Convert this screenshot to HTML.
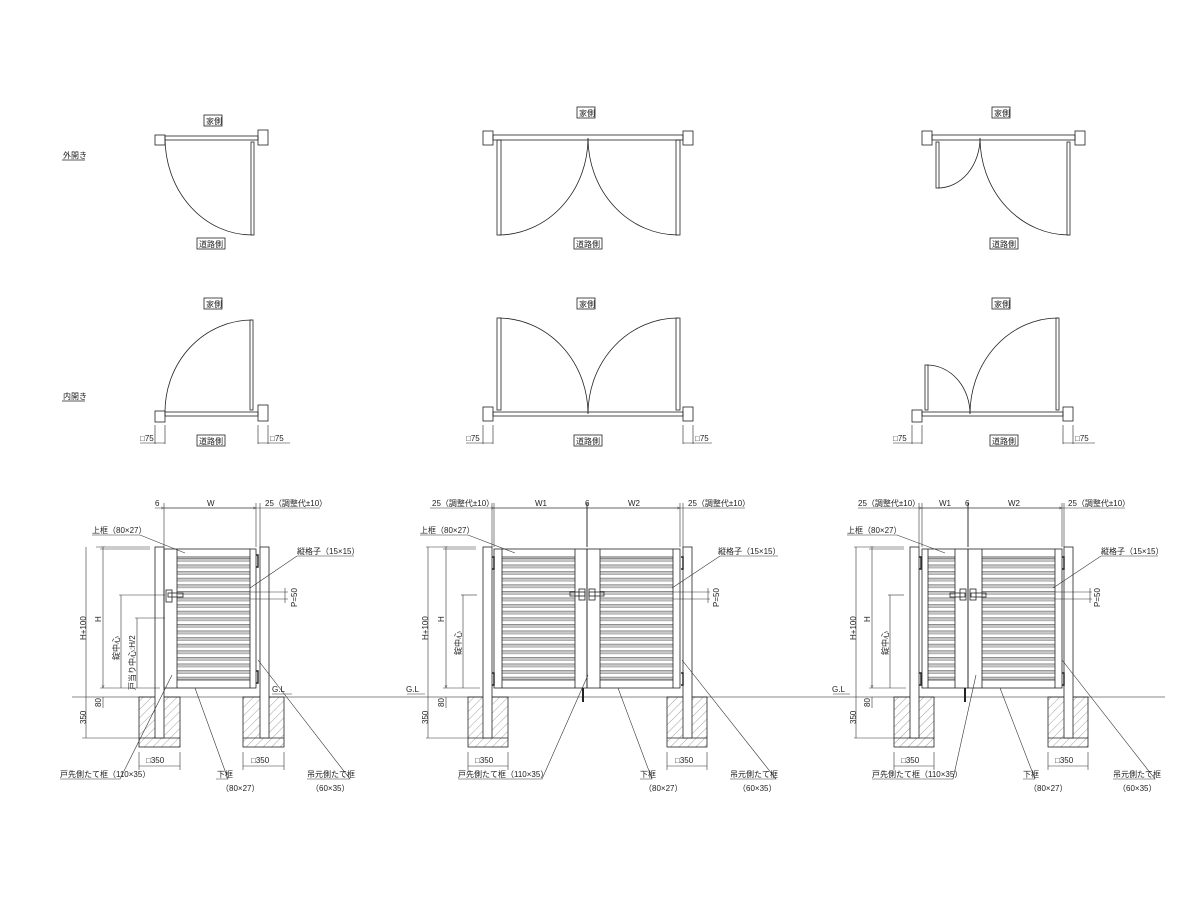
<!DOCTYPE html>
<html><head><meta charset="utf-8"><style>
html,body{margin:0;padding:0;background:#fff;}
svg{display:block;}
text{font-family:"Liberation Sans","Noto Sans CJK JP",sans-serif;font-size:8px;fill:#222;}
</style></head><body>
<svg width="1200" height="900" viewBox="0 0 1200 900" xmlns="http://www.w3.org/2000/svg">
<defs>
<pattern id="sl" x="0" y="558" width="10" height="6.6" patternUnits="userSpaceOnUse">
<rect x="0" y="0" width="10" height="3.4" fill="#c8c8c8"/>
<line x1="0" y1="0.3" x2="10" y2="0.3" stroke="#666" stroke-width="0.6"/>
<line x1="0" y1="3.4" x2="10" y2="3.4" stroke="#888" stroke-width="0.5"/>
</pattern>
<pattern id="ht" width="6" height="6" patternUnits="userSpaceOnUse" patternTransform="rotate(45)">
<line x1="0" y1="0" x2="0" y2="6" stroke="#555" stroke-width="0.8"/>
</pattern>
<marker id="ar" markerWidth="6" markerHeight="6" refX="5" refY="3" orient="auto"><path d="M0,1 L5,3 L0,5" fill="none" stroke="#333" stroke-width="0.6"/></marker>
</defs>
<g fill="none" stroke="#222" stroke-width="0.8">
<!-- ===== TOP ROW (外開き) ===== -->
<!-- left -->
<rect x="155" y="135" width="10" height="10"/><rect x="258" y="130" width="10" height="15"/>
<rect x="165" y="136" width="93" height="4"/>
<rect x="251" y="142" width="3" height="93"/>
<path d="M165,138 A87,97 0 0 0 252,235"/>
<!-- middle -->
<rect x="483" y="131" width="10" height="14"/><rect x="683" y="131" width="10" height="14"/>
<rect x="493" y="135" width="190" height="5"/>
<rect x="497" y="140" width="4" height="95"/><rect x="676" y="140" width="4" height="95"/>
<path d="M588,138 A90,97 0 0 1 499,235"/><path d="M588,138 A90,97 0 0 0 678,235"/>
<!-- right -->
<rect x="922" y="131" width="10" height="14"/><rect x="1075" y="131" width="10" height="14"/>
<rect x="932" y="135" width="143" height="5"/>
<rect x="936" y="142" width="3" height="46"/><rect x="1067" y="142" width="3" height="93"/>
<path d="M980,138 A42,50 0 0 1 938,188"/><path d="M980,138 A89,97 0 0 0 1069,235"/>
<!-- ===== MIDDLE ROW (内開き) ===== -->
<rect x="155" y="411" width="10" height="11"/><rect x="258" y="405" width="10" height="16"/>
<rect x="165" y="412" width="93" height="4"/>
<rect x="250" y="320" width="3" height="90"/>
<path d="M165,412 A87,92 0 0 1 252,320"/>
<rect x="483" y="407" width="10" height="14"/><rect x="683" y="407" width="10" height="14"/>
<rect x="493" y="412" width="190" height="4"/>
<rect x="497" y="318" width="4" height="92"/><rect x="676" y="318" width="4" height="92"/>
<path d="M588,414 A90,96 0 0 0 499,318"/><path d="M588,414 A90,96 0 0 1 678,318"/>
<rect x="912" y="410" width="10" height="12"/><rect x="1063" y="407" width="10" height="14"/>
<rect x="922" y="412" width="141" height="4"/>
<rect x="925" y="365" width="3" height="45"/><rect x="1056" y="318" width="3" height="92"/>
<path d="M970,414 A43,49 0 0 0 927,365"/><path d="M970,414 A88,96 0 0 1 1058,318"/>
<!-- □75 dims -->
<g stroke-width="0.6">
<line x1="155" y1="425" x2="155" y2="444"/><line x1="165" y1="425" x2="165" y2="444"/><line x1="140" y1="443" x2="165" y2="443"/>
<line x1="258" y1="425" x2="258" y2="444"/><line x1="268" y1="425" x2="268" y2="444"/><line x1="258" y1="443" x2="290" y2="443"/>
<line x1="483" y1="425" x2="483" y2="444"/><line x1="493" y1="425" x2="493" y2="444"/><line x1="466" y1="443" x2="493" y2="443"/>
<line x1="683" y1="425" x2="683" y2="444"/><line x1="693" y1="425" x2="693" y2="444"/><line x1="683" y1="443" x2="712" y2="443"/>
<line x1="912" y1="425" x2="912" y2="444"/><line x1="922" y1="425" x2="922" y2="444"/><line x1="893" y1="443" x2="922" y2="443"/>
<line x1="1063" y1="425" x2="1063" y2="444"/><line x1="1073" y1="425" x2="1073" y2="444"/><line x1="1063" y1="443" x2="1095" y2="443"/>
</g>
<!-- label boxes -->
<rect x="204" y="115" width="18" height="11"/><rect x="197" y="238" width="28" height="11"/>
<rect x="577" y="107" width="18" height="11"/><rect x="574" y="238" width="28" height="11"/>
<rect x="992" y="107" width="18" height="11"/><rect x="990" y="238" width="28" height="11"/>
<rect x="204" y="298" width="18" height="11"/><rect x="197" y="435" width="28" height="11"/>
<rect x="577" y="298" width="18" height="11"/><rect x="574" y="435" width="28" height="11"/>
<rect x="992" y="298" width="18" height="11"/><rect x="990" y="435" width="28" height="11"/>
<line x1="62" y1="160" x2="85" y2="160" stroke-width="0.7"/><line x1="62" y1="401" x2="85" y2="401" stroke-width="0.7"/>

<!-- ===== GL line ===== -->
<line x1="72" y1="697" x2="1165" y2="697" stroke="#888" stroke-width="1"/>

<!-- ===== ELEVATION LEFT ===== -->
<g>
<rect x="139" y="697" width="41" height="50" fill="url(#ht)" stroke="none" opacity="0.7"/>
<rect x="139" y="697" width="41" height="50"/><line x1="139" y1="738" x2="180" y2="738"/>
<rect x="243" y="697" width="41" height="50" fill="url(#ht)" stroke="none" opacity="0.7"/>
<rect x="243" y="697" width="41" height="50"/><line x1="243" y1="738" x2="284" y2="738"/>
<rect x="155" y="547" width="9" height="191" fill="#fff"/>
<rect x="260" y="547" width="9" height="191" fill="#fff"/>
<rect x="177" y="557" width="73" height="123" fill="url(#sl)" stroke="none"/>
<rect x="164" y="549" width="92" height="139"/>
<line x1="177" y1="549" x2="177" y2="688"/><line x1="250" y1="549" x2="250" y2="688"/>
<line x1="177" y1="557" x2="250" y2="557"/><line x1="177" y1="680" x2="250" y2="680"/>
<rect x="166" y="590" width="6" height="12"/><rect x="168" y="593" width="15" height="4"/>
<path d="M256,555 h2 v12 h-2 M256,671 h2 v12 h-2" stroke-width="1.4"/>
</g>
<!-- ===== ELEVATION MIDDLE ===== -->
<g>
<rect x="468" y="697" width="40" height="50" fill="url(#ht)" stroke="none" opacity="0.7"/>
<rect x="468" y="697" width="40" height="50"/><line x1="468" y1="738" x2="508" y2="738"/>
<rect x="667" y="697" width="40" height="50" fill="url(#ht)" stroke="none" opacity="0.7"/>
<rect x="667" y="697" width="40" height="50"/><line x1="667" y1="738" x2="707" y2="738"/>
<rect x="483" y="547" width="9" height="191" fill="#fff"/>
<rect x="683" y="547" width="9" height="191" fill="#fff"/>
<rect x="502" y="557" width="73" height="123" fill="url(#sl)" stroke="none"/>
<rect x="600" y="557" width="73" height="123" fill="url(#sl)" stroke="none"/>
<rect x="494" y="549" width="93" height="139"/><rect x="587" y="549" width="93" height="139"/>
<line x1="502" y1="549" x2="502" y2="688"/><line x1="575" y1="549" x2="575" y2="688"/>
<line x1="600" y1="549" x2="600" y2="688"/><line x1="673" y1="549" x2="673" y2="688"/>
<line x1="502" y1="557" x2="575" y2="557"/><line x1="502" y1="680" x2="575" y2="680"/>
<line x1="600" y1="557" x2="673" y2="557"/><line x1="600" y1="680" x2="673" y2="680"/>
<rect x="570" y="592" width="15" height="4"/><rect x="589" y="592" width="15" height="4"/>
<rect x="579" y="589" width="6" height="11"/><rect x="589" y="589" width="6" height="11"/>
<line x1="583" y1="688" x2="583" y2="702" stroke-width="2"/>
<path d="M492,557 h2 v12 h-2 M492,673 h2 v12 h-2 M681,557 h2 v12 h-2 M681,673 h2 v12 h-2" stroke-width="1.4"/>
</g>
<!-- ===== ELEVATION RIGHT ===== -->
<g>
<rect x="894" y="697" width="40" height="50" fill="url(#ht)" stroke="none" opacity="0.7"/>
<rect x="894" y="697" width="40" height="50"/><line x1="894" y1="738" x2="934" y2="738"/>
<rect x="1048" y="697" width="40" height="50" fill="url(#ht)" stroke="none" opacity="0.7"/>
<rect x="1048" y="697" width="40" height="50"/><line x1="1048" y1="738" x2="1088" y2="738"/>
<rect x="910" y="547" width="9" height="191" fill="#fff"/>
<rect x="1064" y="547" width="9" height="191" fill="#fff"/>
<rect x="928" y="557" width="27" height="123" fill="url(#sl)" stroke="none"/>
<rect x="982" y="557" width="73" height="123" fill="url(#sl)" stroke="none"/>
<rect x="922" y="549" width="46" height="139"/><rect x="968" y="549" width="94" height="139"/>
<line x1="928" y1="549" x2="928" y2="688"/><line x1="955" y1="549" x2="955" y2="688"/>
<line x1="982" y1="549" x2="982" y2="688"/><line x1="1055" y1="549" x2="1055" y2="688"/>
<line x1="928" y1="557" x2="955" y2="557"/><line x1="928" y1="680" x2="955" y2="680"/>
<line x1="982" y1="557" x2="1055" y2="557"/><line x1="982" y1="680" x2="1055" y2="680"/>
<rect x="950" y="593" width="15" height="4"/><rect x="971" y="593" width="15" height="4"/>
<rect x="960" y="589" width="6" height="11"/><rect x="970" y="589" width="6" height="11"/>
<line x1="965" y1="688" x2="965" y2="702" stroke-width="2"/>
<path d="M919,557 h2 v12 h-2 M919,673 h2 v12 h-2 M1062,557 h2 v12 h-2 M1062,673 h2 v12 h-2" stroke-width="1.4"/>
</g>

<!-- ===== DIMENSIONS ===== -->
<g stroke-width="0.6" stroke="#333">
<!-- left -->
<line x1="155" y1="508" x2="320" y2="508"/><line x1="164" y1="508" x2="256" y2="508" marker-start="url(#ar)" marker-end="url(#ar)"/>
<line x1="164" y1="503" x2="164" y2="547"/><line x1="256" y1="503" x2="256" y2="547"/><line x1="260" y1="503" x2="260" y2="547"/>
<line x1="96" y1="547" x2="150" y2="547"/><line x1="86" y1="547" x2="86" y2="738"/><line x1="82" y1="738" x2="139" y2="738"/>
<line x1="103" y1="549" x2="103" y2="688" marker-start="url(#ar)" marker-end="url(#ar)"/>
<line x1="100" y1="549" x2="150" y2="549"/><line x1="100" y1="688" x2="160" y2="688"/>
<line x1="121" y1="595" x2="121" y2="688"/><line x1="119" y1="595" x2="165" y2="595"/>
<line x1="137" y1="618" x2="137" y2="688"/><line x1="135" y1="618" x2="165" y2="618"/>
<line x1="103" y1="697" x2="103" y2="708"/>
<line x1="139" y1="752" x2="139" y2="770"/><line x1="180" y1="752" x2="180" y2="770"/><line x1="139" y1="766" x2="180" y2="766"/>
<line x1="243" y1="752" x2="243" y2="770"/><line x1="284" y1="752" x2="284" y2="770"/><line x1="243" y1="766" x2="284" y2="766"/>
<line x1="250" y1="592" x2="288" y2="592"/><line x1="250" y1="599" x2="288" y2="599"/><line x1="285" y1="588" x2="285" y2="603"/>
<!-- middle -->
<line x1="430" y1="508" x2="745" y2="508"/><line x1="494" y1="508" x2="680" y2="508" marker-start="url(#ar)" marker-end="url(#ar)"/>
<line x1="492" y1="503" x2="492" y2="547"/><line x1="494" y1="503" x2="494" y2="547"/><line x1="587" y1="503" x2="587" y2="547" stroke-width="1"/>
<line x1="680" y1="503" x2="680" y2="547"/><line x1="683" y1="503" x2="683" y2="547"/>
<line x1="426" y1="547" x2="476" y2="547"/><line x1="428" y1="547" x2="428" y2="738"/><line x1="426" y1="738" x2="468" y2="738"/>
<line x1="446" y1="549" x2="446" y2="688" marker-start="url(#ar)" marker-end="url(#ar)"/>
<line x1="443" y1="549" x2="476" y2="549"/><line x1="443" y1="688" x2="480" y2="688"/>
<line x1="463" y1="595" x2="463" y2="688"/><line x1="461" y1="595" x2="477" y2="595"/>
<line x1="446" y1="697" x2="446" y2="708"/>
<line x1="468" y1="752" x2="468" y2="770"/><line x1="508" y1="752" x2="508" y2="770"/><line x1="468" y1="766" x2="508" y2="766"/>
<line x1="667" y1="752" x2="667" y2="770"/><line x1="707" y1="752" x2="707" y2="770"/><line x1="667" y1="766" x2="707" y2="766"/>
<line x1="673" y1="592" x2="710" y2="592"/><line x1="673" y1="599" x2="710" y2="599"/><line x1="708" y1="588" x2="708" y2="603"/>
<!-- right -->
<line x1="858" y1="508" x2="1125" y2="508"/><line x1="922" y1="508" x2="1062" y2="508" marker-start="url(#ar)" marker-end="url(#ar)"/>
<line x1="919" y1="503" x2="919" y2="547"/><line x1="922" y1="503" x2="922" y2="547"/><line x1="968" y1="503" x2="968" y2="547" stroke-width="1"/>
<line x1="1062" y1="503" x2="1062" y2="547"/><line x1="1064" y1="503" x2="1064" y2="547"/>
<line x1="854" y1="547" x2="904" y2="547"/><line x1="856" y1="547" x2="856" y2="738"/><line x1="854" y1="738" x2="894" y2="738"/>
<line x1="872" y1="549" x2="872" y2="688" marker-start="url(#ar)" marker-end="url(#ar)"/>
<line x1="869" y1="549" x2="904" y2="549"/><line x1="869" y1="688" x2="906" y2="688"/>
<line x1="890" y1="595" x2="890" y2="688"/><line x1="888" y1="595" x2="904" y2="595"/>
<line x1="872" y1="697" x2="872" y2="708"/>
<line x1="894" y1="752" x2="894" y2="770"/><line x1="934" y1="752" x2="934" y2="770"/><line x1="894" y1="766" x2="934" y2="766"/>
<line x1="1048" y1="752" x2="1048" y2="770"/><line x1="1088" y1="752" x2="1088" y2="770"/><line x1="1048" y1="766" x2="1088" y2="766"/>
<line x1="1055" y1="592" x2="1092" y2="592"/><line x1="1055" y1="599" x2="1092" y2="599"/><line x1="1090" y1="588" x2="1090" y2="603"/>
<!-- leaders -->
<polyline points="92,535 140,535 185,553"/><polyline points="354,556 297,556 250,588"/>
<polyline points="60,779 120,779 172,675"/><polyline points="216,779 228,779 195,688"/><polyline points="307,779 350,779 258,660"/>
<polyline points="420,535 468,535 515,553"/><polyline points="778,556 720,556 672,588"/>
<polyline points="458,779 542,779 588,675"/><polyline points="640,779 652,779 618,688"/><polyline points="730,779 776,779 682,660"/>
<polyline points="847,535 897,535 945,553"/><polyline points="1158,556 1101,556 1053,588"/>
<polyline points="872,779 953,779 976,675"/><polyline points="1023,779 1035,779 1000,688"/><polyline points="1113,779 1155,779 1062,660"/>
<line x1="272" y1="694" x2="292" y2="694"/><line x1="407" y1="694" x2="425" y2="694"/><line x1="833" y1="694" x2="850" y2="694"/>
</g>
</g>

<!-- ===== TEXT ===== -->
<text x="206" y="124">家側</text><text x="199" y="247">道路側</text>
<text x="579" y="116">家側</text><text x="576" y="247">道路側</text>
<text x="994" y="116">家側</text><text x="992" y="247">道路側</text>
<text x="206" y="307">家側</text><text x="199" y="444">道路側</text>
<text x="579" y="307">家側</text><text x="576" y="444">道路側</text>
<text x="994" y="307">家側</text><text x="992" y="444">道路側</text>
<text x="63" y="158" font-size="7">外開き</text><text x="63" y="399" font-size="7">内開き</text>
<text x="140" y="441">□75</text><text x="270" y="441">□75</text>
<text x="466" y="441">□75</text><text x="695" y="441">□75</text>
<text x="893" y="441">□75</text><text x="1075" y="441">□75</text>

<text x="155" y="506">6</text><text x="207" y="506">W</text><text x="265" y="506">25（調整代±10）</text>
<text x="92" y="533">上框（80×27）</text><text x="297" y="554">縦格子（15×15）</text>
<text x="272" y="692">G.L</text>
<text x="146" y="763">□350</text><text x="251" y="763">□350</text>
<text x="60" y="777">戸先側たて框（110×35）</text>
<text x="217" y="777">下框</text><text x="221" y="791">（80×27）</text>
<text x="307" y="777">吊元側たて框</text><text x="311" y="791">（60×35）</text>

<text x="432" y="506">25（調整代±10）</text><text x="535" y="506">W1</text><text x="585" y="506">6</text><text x="628" y="506">W2</text><text x="688" y="506">25（調整代±10）</text>
<text x="420" y="533">上框（80×27）</text><text x="718" y="554">縦格子（15×15）</text>
<text x="406" y="692" font-size="9">G.L</text>
<text x="475" y="763">□350</text><text x="675" y="763">□350</text>
<text x="458" y="777">戸先側たて框（110×35）</text>
<text x="640" y="777">下框</text><text x="644" y="791">（80×27）</text>
<text x="730" y="777">吊元側たて框</text><text x="738" y="791">（60×35）</text>

<text x="858" y="506">25（調整代±10）</text><text x="939" y="506">W1</text><text x="965" y="506">6</text><text x="1008" y="506">W2</text><text x="1068" y="506">25（調整代±10）</text>
<text x="847" y="533">上框（80×27）</text><text x="1101" y="554">縦格子（15×15）</text>
<text x="832" y="692" font-size="9">G.L</text>
<text x="901" y="763">□350</text><text x="1055" y="763">□350</text>
<text x="872" y="777">戸先側たて框（110×35）</text>
<text x="1023" y="777">下框</text><text x="1029" y="791">（80×27）</text>
<text x="1113" y="777">吊元側たて框</text><text x="1118" y="791">（60×35）</text>

<!-- rotated texts -->
<g>
<text transform="translate(86,640) rotate(-90)">H+100</text>
<text transform="translate(101,622) rotate(-90)">H</text>
<text transform="translate(119,660) rotate(-90)">錠中心</text>
<text transform="translate(135,690) rotate(-90)">戸当り中心:H/2</text>
<text transform="translate(101,707) rotate(-90)">80</text>
<text transform="translate(86,724) rotate(-90)">350</text>
<text transform="translate(297,607) rotate(-90)">P=50</text>

<text transform="translate(428,640) rotate(-90)">H+100</text>
<text transform="translate(444,622) rotate(-90)">H</text>
<text transform="translate(461,655) rotate(-90)">錠中心</text>
<text transform="translate(444,707) rotate(-90)">80</text>
<text transform="translate(428,724) rotate(-90)">350</text>
<text transform="translate(719,607) rotate(-90)">P=50</text>

<text transform="translate(856,640) rotate(-90)">H+100</text>
<text transform="translate(870,622) rotate(-90)">H</text>
<text transform="translate(888,655) rotate(-90)">錠中心</text>
<text transform="translate(870,707) rotate(-90)">80</text>
<text transform="translate(856,724) rotate(-90)">350</text>
<text transform="translate(1100,607) rotate(-90)">P=50</text>
</g>
</svg>
</body></html>
